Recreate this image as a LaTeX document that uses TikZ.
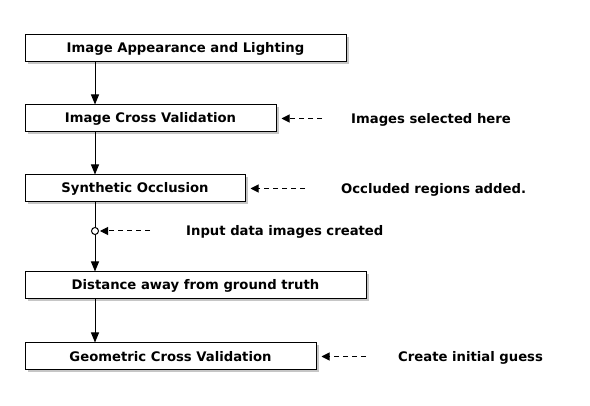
\documentclass[tikz,border=0pt]{standalone}
\usepackage{fontspec}
\setmainfont{DejaVu Sans}
\usetikzlibrary{arrows.meta,shadows}

\begin{document}
\begin{tikzpicture}[x=1pt,y=-1pt,font=\fontsize{13.2}{15}\selectfont\bfseries]
  \def\h{27}
  \def\sx{95}

\tikzstyle{stage}=[draw,line width=1pt,fill=white,minimum height=\h pt,inner sep=0pt,
  drop shadow={shadow xshift=2.5pt,shadow yshift=-2.5pt,opacity=0.45}]
\tikzstyle{flow}=[line width=1pt,-{Triangle[length=10pt,width=8pt]}]
\tikzstyle{hint}=[line width=1pt,dash pattern=on 5pt off 4pt,shorten >=5pt,-{Triangle[length=8pt,width=8pt]}]
\tikzstyle{note}=[anchor=west,inner sep=0pt]

\useasboundingbox (0,0) rectangle (590,406);
\coordinate (S) at (\sx,0);

% processing stages
\node[stage,minimum width=321pt] (B1) at (185.5,48.5) {Image Appearance and Lighting};
\node[stage,minimum width=251pt] (B2) at (150.5,118.5) {Image Cross Validation};
\node[stage,minimum width=220pt] (B3) at (135,188.5) {Synthetic Occlusion};
\node[stage,minimum width=341pt] (B4) at (195.5,285.5) {Distance away from ground truth};
\node[stage,minimum width=291pt] (B5) at (170.5,356.5) {Geometric Cross Validation};

\draw[flow] (B1.south -| S) -- (B2.north -| S);
\draw[flow] (B2.south -| S) -- (B3.north -| S);
\draw[flow] (B3.south -| S) -- (B4.north -| S);
\draw[flow] (B4.south -| S) -- (B5.north -| S);
\node[circle,draw,line width=1pt,fill=white,inner sep=0pt,minimum size=7pt] (C) at (\sx,231) {};

% remarks
\node[note] (N2) at (351,119.5) {Images selected here};
\node[note] (N3) at (341,189.5) {Occluded regions added.};
\node[note] (NC) at (186,232) {Input data images created};
\node[note] (N5) at (398,357.5) {Create initial guess};

\coordinate (T2) at (322,118.5);
\coordinate (T3) at (305,188.5);
\coordinate (TC) at (150,231);
\coordinate (T5) at (366,356.5);
\draw[hint] (T2) -- (B2);
\draw[hint] (T3) -- (B3);
\draw[hint,shorten >=1pt] (TC) -- (C);
\draw[hint] (T5) -- (B5);
\end{tikzpicture}
\end{document}
